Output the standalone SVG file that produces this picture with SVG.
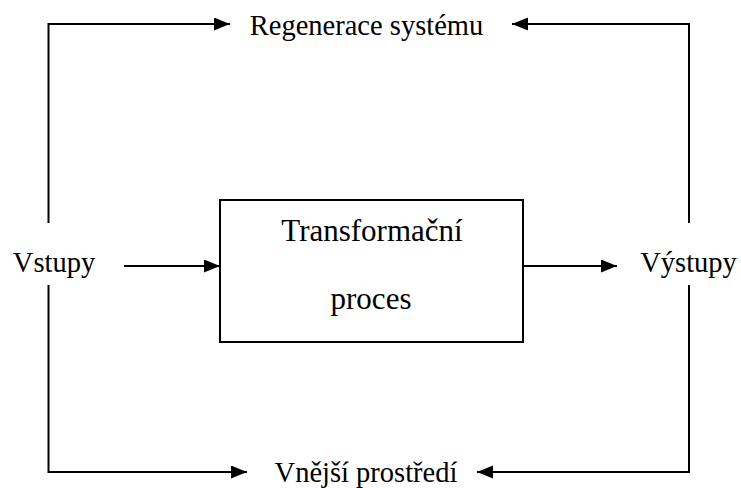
<svg xmlns="http://www.w3.org/2000/svg" width="741" height="488" viewBox="0 0 741 488">
<style>
text{font-family:"Liberation Serif","Times New Roman",serif;font-size:28.5px;fill:#000;text-anchor:middle}
text.b{font-size:31px}
.c{fill:none;stroke:#000;stroke-width:2}
</style>
<defs>
<marker id="ah" markerUnits="userSpaceOnUse" markerWidth="17" markerHeight="14" refX="16" refY="6.5" orient="auto">
<path d="M0,0 L16,6.5 L0,13 z" fill="#000"/>
</marker>
</defs>
<rect width="741" height="488" fill="#fff"/>
<g id="connectors">
<path class="c" d="M48.5,223 V24 H230" marker-end="url(#ah)"/>
<path class="c" d="M689,223 V24 H512" marker-end="url(#ah)"/>
<path class="c" d="M48.5,285 V472 H247" marker-end="url(#ah)"/>
<path class="c" d="M689,285 V472 H477" marker-end="url(#ah)"/>
<path class="c" d="M124,266 H220" marker-end="url(#ah)"/>
<path class="c" d="M523,266 H617" marker-end="url(#ah)"/>
</g>
<g id="regenerace"><text x="366.5" y="35">Regenerace systému</text></g>
<g id="vstupy"><text x="54" y="272">Vstupy</text></g>
<g id="proces">
<rect x="220" y="200" width="303" height="142" fill="#fff" stroke="#000" stroke-width="2"/>
<text class="b" x="372" y="241">Transformační</text>
<text class="b" x="371" y="309">proces</text>
</g>
<g id="vystupy"><text x="688.5" y="272">Výstupy</text></g>
<g id="prostredi"><text x="366" y="482">Vnější prostředí</text></g>
</svg>
